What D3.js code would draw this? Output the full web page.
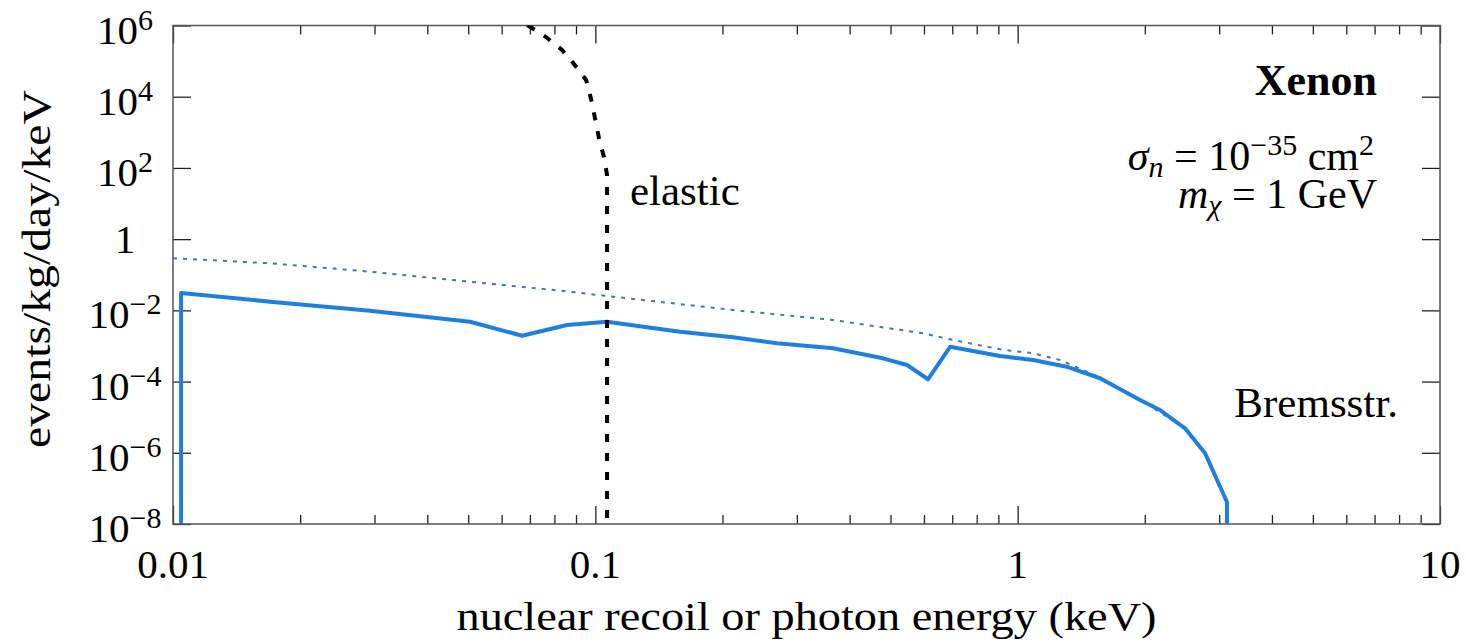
<!DOCTYPE html>
<html>
<head>
<meta charset="utf-8">
<script src="https://cdn.jsdelivr.net/npm/d3@7"></script>
</head>
<body style="margin:0">
<div id="chart"></div>
<script>
// Tick values and labels
const xTicks = [0.01, 0.1, 1, 10];
const xTickLabels = ["0.01", "0.1", "1", "10"];
const yTicks = [1e-8, 1e-6, 1e-4, 1e-2, 1, 1e2, 1e4, 1e6];
const yTickExps = ["−8", "−6", "−4", "−2", "", "2", "4", "6"];

// Bremsstrahlung (solid blue): energy in keV, rate
const bremsX = [0.01045, 0.01045, 0.01698, 0.02927, 0.0505, 0.0671, 0.0857, 0.1066, 0.1587, 0.2118,
  0.2693, 0.3654, 0.4799, 0.547, 0.6133, 0.6916, 0.9083, 1.087, 1.306, 1.567, 1.949, 2.173, 2.49,
  2.778, 3.13, 3.13];
const bremsY = [1e-9, 0.0307, 0.0175, 0.00977, 0.0048, 0.00194, 0.00388, 0.0048, 0.00252, 0.00175,
  0.00119, 8.6e-4, 4.5e-4, 2.92e-4, 1.16e-4, 9.5e-4, 5.2e-4, 4.04e-4, 2.62e-4, 1.24e-4, 3.03e-5,
  1.59e-5, 4.87e-6, 9.7e-7, 4.15e-8, 1e-9];

// Bremsstrahlung without atomic effects (dotted blue)
const freeX = [0.01, 0.01698, 0.02927, 0.0505, 0.0871, 0.1066, 0.2118, 0.3654, 0.597, 0.6916,
  0.9083, 1.087, 1.26, 1.567, 1.949, 2.49, 2.778, 3.13];
const freeY = [0.290, 0.210, 0.122, 0.0638, 0.0334, 0.0253, 0.01023, 0.00536, 0.00227, 0.00154,
  8.05e-4, 6.22e-4, 4.03e-4, 1.3e-4, 3.1e-5, 4.9e-6, 9.7e-7, 4.15e-8];

// Elastic nuclear recoil (dashed black)
const elasticX = [0.066, 0.0693, 0.0764, 0.0834, 0.089, 0.0951, 0.0977, 0.0998, 0.102, 0.1048,
  0.1066, 0.1066];
const elasticY = [3e6, 1e6, 4.75e5, 2.05e5, 8.3e4, 2.95e4, 8.6e3, 2.52e3, 693, 203, 63.4, 1e-9];

const width = 1466, height = 644;
const plot = { left: 173, right: 1440, top: 25.5, bottom: 524 };
const serif = "'Liberation Serif'";

const svg = d3.select("#chart").append("svg")
  .attr("width", width)
  .attr("height", height);

const x = d3.scaleLog().domain([0.01, 10]).range([plot.left, plot.right]);
const y = d3.scaleLog().domain([1e-8, 1e6]).range([plot.bottom, plot.top]);

// helper: text element with the serif font set as attribute and inline style
let addText = (parent, size) => parent.append("text")
  .attr("font-size", size)
  .attr("font-family", serif)
  .style("font-family", serif)
  .attr("fill", "#000");

let addSpan = (t, str, opts = {}) => {
  let s = t.append("tspan")
    .attr("font-family", serif)
    .style("font-family", serif)
    .text(str);
  if (opts.size) s.attr("font-size", opts.size);
  if (opts.dy) s.attr("dy", opts.dy);
  if (opts.italic) s.attr("font-style", "italic");
  return s;
};

svg.append("clipPath").attr("id", "clip")
  .append("rect")
  .attr("x", plot.left).attr("y", plot.top)
  .attr("width", plot.right - plot.left)
  .attr("height", plot.bottom - plot.top);

// minor + major x ticks
let xMinor = [];
[0.01, 0.1, 1].forEach(d => { for (let k = 2; k <= 9; k++) xMinor.push(d * k); });

let drawXAxis = (yPos, sign, vals, len) => {
  let ax = (sign > 0 ? d3.axisBottom(x) : d3.axisTop(x))
    .tickValues(vals).tickSize(-len).tickFormat("");
  let g = svg.append("g").attr("transform", `translate(0,${yPos})`).call(ax);
  g.select(".domain").remove();
  g.selectAll("text").remove();
  g.selectAll("line").attr("stroke", "#222").attr("stroke-width", 1.3);
};
drawXAxis(plot.bottom, 1, xTicks, 18);
drawXAxis(plot.bottom, 1, xMinor, 9);
drawXAxis(plot.top, -1, xTicks, 18);
drawXAxis(plot.top, -1, xMinor, 9);

let drawYAxis = (xPos, left) => {
  let ax = (left ? d3.axisLeft(y) : d3.axisRight(y))
    .tickValues(yTicks).tickSize(-18).tickFormat("");
  let g = svg.append("g").attr("transform", `translate(${xPos},0)`).call(ax);
  g.select(".domain").remove();
  g.selectAll("text").remove();
  g.selectAll("line").attr("stroke", "#222").attr("stroke-width", 1.3);
};
drawYAxis(plot.left, true);
drawYAxis(plot.right, false);

// frame
svg.append("rect")
  .attr("x", plot.left).attr("y", plot.top)
  .attr("width", plot.right - plot.left)
  .attr("height", plot.bottom - plot.top)
  .attr("fill", "none")
  .attr("stroke", "#555")
  .attr("stroke-width", 1.5);

// x tick labels
xTicks.forEach((d, i) => {
  addText(svg, 41)
    .attr("x", x(d))
    .attr("y", 578)
    .attr("text-anchor", "middle")
    .text(xTickLabels[i]);
});

// y tick labels
yTicks.forEach((d, i) => {
  let t = addText(svg, 41)
    .attr("x", 125)
    .attr("text-anchor", "middle");
  if (yTickExps[i] === "") {
    t.attr("y", y(d) + 13.5).text("1");
  } else {
    t.attr("y", y(d) + 18);
    addSpan(t, "10");
    addSpan(t, yTickExps[i], { size: 30, dy: -14 });
  }
});

// axis titles
addText(svg, 41)
  .attr("x", (plot.left + plot.right) / 2)
  .attr("y", 630)
  .attr("text-anchor", "middle")
  .attr("textLength", 700)
  .attr("lengthAdjust", "spacingAndGlyphs")
  .text("nuclear recoil or photon energy (keV)");

addText(svg, 41)
  .attr("transform", "translate(50,269) rotate(-90)")
  .attr("text-anchor", "middle")
  .attr("textLength", 358)
  .attr("lengthAdjust", "spacingAndGlyphs")
  .text("events/kg/day/keV");

// curves
let line = (xs, ys) => d3.line()
  .x((d, i) => x(xs[i]))
  .y((d, i) => y(ys[i]))(xs);

let curves = svg.append("g").attr("clip-path", "url(#clip)");

curves.append("path")
  .attr("d", line(freeX, freeY))
  .attr("fill", "none")
  .attr("stroke", "#4672b8")
  .attr("stroke-width", 2)
  .attr("stroke-dasharray", "4,6");

curves.append("path")
  .attr("d", line(bremsX, bremsY))
  .attr("fill", "none")
  .attr("stroke", "#1f7fe0")
  .attr("stroke-width", 4)
  .attr("stroke-linejoin", "round");

curves.append("path")
  .attr("d", line(elasticX, elasticY))
  .attr("fill", "none")
  .attr("stroke", "#000")
  .attr("stroke-width", 4)
  .attr("stroke-dasharray", "8,11");

// annotations
addText(svg, 44)
  .attr("x", 1377).attr("y", 95)
  .attr("text-anchor", "end")
  .attr("font-weight", "bold")
  .text("Xenon");

let sig = addText(svg, 42)
  .attr("x", 1374).attr("y", 170)
  .attr("text-anchor", "end");
addSpan(sig, "σ", { italic: true });
addSpan(sig, "n", { italic: true, size: 30, dy: 7 });
addSpan(sig, " = 10", { dy: -7 });
addSpan(sig, "−35", { size: 30, dy: -15 });
addSpan(sig, " cm", { dy: 15 });
addSpan(sig, "2", { size: 30, dy: -15 });

let mass = addText(svg, 42)
  .attr("x", 1377).attr("y", 208)
  .attr("text-anchor", "end");
addSpan(mass, "m", { italic: true });
addSpan(mass, "χ", { italic: true, size: 30, dy: 7 });
addSpan(mass, " = 1 GeV", { dy: -7 });

addText(svg, 43)
  .attr("x", 630).attr("y", 205)
  .text("elastic");

addText(svg, 43)
  .attr("x", 1398).attr("y", 417)
  .attr("text-anchor", "end")
  .text("Bremsstr.");
</script>
</body>
</html>
